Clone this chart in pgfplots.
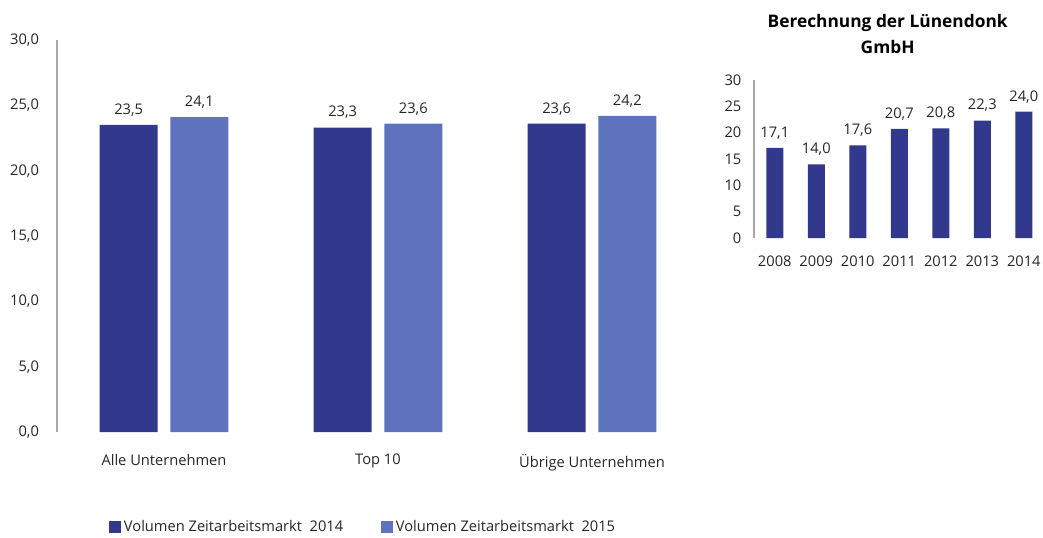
\documentclass[border=0pt]{standalone}
\usepackage{pgfplots}
\pgfplotsset{compat=1.18}
\usepackage{fontspec}
\setmainfont{Open Sans}
\definecolor{dark}{RGB}{50,56,140}
\definecolor{light}{RGB}{94,114,190}
\definecolor{axgray}{RGB}{166,166,166}
\definecolor{txt}{RGB}{38,38,38}
\begin{document}
\begin{tikzpicture}
\pgfplotsset{
  common/.style={
    scale only axis,
    anchor=south west,
    axis lines=left,
    x axis line style={draw=none},
    y axis line style={draw=axgray,line width=0.8pt},
    axis line style={-},
    major tick length=0pt,
    ymin=0, ymax=30,
    enlargelimits=false,
    clip=false,
    ybar,
    xtick=data,
    tick label style={font=\fontsize{11}{13}\selectfont, text=txt},
    /pgf/number format/assume math mode=true,
    nodes near coords style={font=\fontsize{11}{13}\selectfont, text=txt},
  }
}
\begin{axis}[common,
  at={(42.75pt,78.75pt)},
  width=481.5pt, height=294pt,
  xmin=-0.5, xmax=2.5,
  bar width=43.5pt,
  ybar=9.4pt,
  ytick={0,5,...,30},
  yticklabel style={/pgf/number format/fixed, /pgf/number format/fixed zerofill, /pgf/number format/precision=1, /pgf/number format/use comma, xshift=-10pt},
  xticklabels={Alle Unternehmen, Top 10, Übrige Unternehmen},
  xticklabel style={yshift=-13pt},
  nodes near coords,
  every node near coord/.append style={/pgf/number format/fixed, /pgf/number format/fixed zerofill, /pgf/number format/precision=1, /pgf/number format/use comma, yshift=3pt},
  legend style={draw=none, fill=none, at={(0.0748,-0.242)}, anchor=west,
    legend columns=2, font=\fontsize{11}{13}\selectfont, text=txt,
    /tikz/every even column/.append style={column sep=26.5pt}},
  legend cell align=left,
  legend image code/.code={\fill[#1,draw=none] (0pt,-4.5pt) rectangle (9pt,4.5pt);},
]
\addplot[fill=dark, draw=none] coordinates {(0,23.5) (1,23.3) (2,23.6)};
\addplot[fill=light, draw=none] coordinates {(0,24.1) (1,23.6) (2,24.2)};
\legend{Volumen Zeitarbeitsmarkt\ \ 2014, Volumen Zeitarbeitsmarkt\ \ 2015}
\end{axis}
\begin{axis}[common,
  at={(565.5pt,224.25pt)},
  width=217.9pt, height=118.5pt,
  xmin=-0.5, xmax=6.5,
  bar width=12.75pt,
  ytick={0,5,...,30},
  yticklabel style={xshift=-6pt},
  xticklabels={2008,2009,2010,2011,2012,2013,2014},
  xticklabel style={yshift=-10pt},
  nodes near coords,
  every node near coord/.append style={/pgf/number format/fixed, /pgf/number format/fixed zerofill, /pgf/number format/precision=1, /pgf/number format/use comma, yshift=3pt},
  title={Berechnung der Lünendonk\\GmbH},
  title style={align=center, font=\fontsize{13}{19.5}\selectfont\bfseries, text=black,
    at={(0.46,1.087)}, anchor=south},
]
\addplot[fill=dark, draw=none] coordinates {(0,17.1) (1,14.0) (2,17.6) (3,20.7) (4,20.8) (5,22.3) (6,24.0)};
\end{axis}
\pgfresetboundingbox
\useasboundingbox (0pt,0pt) rectangle (782.25pt,402.75pt);
\end{tikzpicture}
\end{document}
